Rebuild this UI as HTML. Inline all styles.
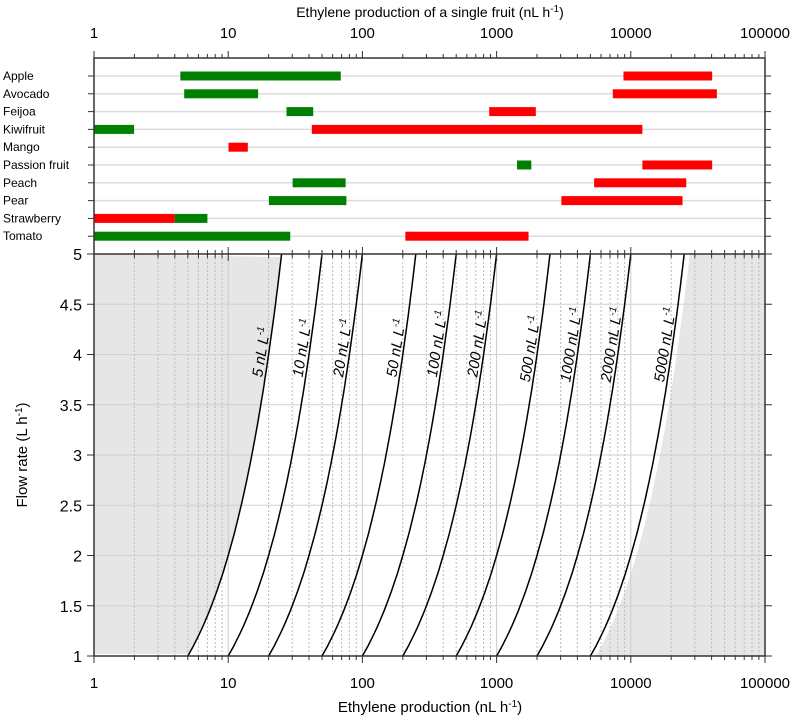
<!DOCTYPE html>
<html><head><meta charset="utf-8"><style>
body{margin:0;background:#fff}
svg{font-family:"Liberation Sans",Arial,sans-serif}
</style></head><body>
<svg id="c" width="797" height="721" xmlns="http://www.w3.org/2000/svg"></svg>
<script>
const fruits=["Apple","Avocado","Feijoa","Kiwifruit","Mango","Passion fruit","Peach","Pear","Strawberry","Tomato"];
const greenLo=[4.4,4.7,27.2,1,null,1420,30.2,20.1,4.0,1];
const greenHi=[69,16.7,43,1.99,null,1815,75,76,7.0,29];
const redLo=[8820,7340,881,42,10.05,12200,5330,3040,1,209];
const redHi=[40400,43800,1960,12200,14,40400,25900,24300,4.0,1730];
const concentrations=[5,10,20,50,100,200,500,1000,2000,5000];
const yTicks=[1,1.5,2,2.5,3,3.5,4,4.5,5];
const xTickLabels=["1","10","100","1000","10000","100000"];

const NS="http://www.w3.org/2000/svg";
const svg=document.getElementById('c');
const X0=94,DEC=134.2;
const xs=v=>X0+DEC*Math.log10(v);
const Y1=656,YU=100.5;
const ys=f=>Y1-(f-1)*YU;
const TOP=58,MID=254;
const rowY=i=>76+i*17.8;
function el(t,a,p){const e=document.createElementNS(NS,t);for(const k in a)e.setAttribute(k,a[k]);(p||svg).appendChild(e);return e;}

function curvePts(c,f0,f1){let p=[];for(let f=f0;f<=f1+1e-9;f+=0.05)p.push([xs(c*f),ys(f)]);return p;}
let lp=curvePts(5,1.02,5);
let d="M"+X0+","+ys(1.02)+" "+lp.map(q=>"L"+q[0].toFixed(1)+","+q[1].toFixed(1)).join(" ")+" L"+X0+","+MID+"Z";
let s=el('path',{d:d,fill:'#e6e6e6'});


let rp=curvePts(5500,1,5);
d="M"+rp.map(q=>q[0].toFixed(1)+","+q[1].toFixed(1)).join(" L")+" L"+xs(100000)+","+MID+" L"+xs(100000)+","+Y1+"Z";
s=el('path',{d:d,fill:'#e6e6e6'});



for(let e=0;e<5;e++)for(let m=1;m<10;m++){const x=xs(m*Math.pow(10,e));
 if(m==1){if(e>0)el('line',{x1:x,x2:x,y1:MID,y2:Y1,stroke:'#ccc','stroke-width':1});}
 else el('line',{x1:x,x2:x,y1:MID,y2:Y1,stroke:'#bbb','stroke-width':1,'stroke-dasharray':'2,2'});}
yTicks.forEach(v=>{if(v>1&&v<5)el('line',{x1:X0,x2:xs(100000),y1:ys(v),y2:ys(v),stroke:'#d0d0d0'});});

concentrations.forEach((c,i)=>{
 const p=curvePts(c,1,5);
 const l=el('path',{d:"M"+p.map(q=>q[0].toFixed(1)+","+q[1].toFixed(1)).join(" L"),fill:'none',stroke:'#000','stroke-width':1.5});
 
 
 const f=(c>=500)?3.72:3.77;
 const x=xs(c*f)-3,y=ys(f);
 const ang=Math.atan((DEC/(3.6*Math.LN10))/YU)*180/Math.PI;
 const t=el('text',{x:0,y:0,transform:`translate(${x},${y}) rotate(${-90+ang})`,'text-anchor':'start','font-size':15,'font-style':'italic'});
 t.innerHTML=c+' nL L<tspan dy="-6" font-size="10">-1</tspan>';
 
 
});

el('rect',{x:X0,y:TOP,width:xs(100000)-X0,height:MID-TOP,fill:'#fff'});
fruits.forEach((n,i)=>{
 const y=rowY(i);
 el('line',{x1:X0,x2:xs(100000),y1:y,y2:y,stroke:'#ddd','stroke-width':1.5});
 el('line',{x1:X0-6,x2:X0,y1:y,y2:y,stroke:'#333'});
 el('line',{x1:xs(100000),x2:xs(100000)+6,y1:y,y2:y,stroke:'#333'});
 const t=el('text',{x:3,y:y+4,'font-size':12});t.textContent=n;
 
 
});
fruits.forEach((n,i)=>{
 const y=rowY(i);
 if(redLo[i]!=null){const r=el('rect',{x:xs(redLo[i]),y:y-4.5,width:xs(redHi[i])-xs(redLo[i]),height:9,fill:'#ff0000'});
  
  }
 if(greenLo[i]!=null){const g=el('rect',{x:xs(greenLo[i]),y:y-4.5,width:xs(greenHi[i])-xs(greenLo[i]),height:9,fill:'#008000'});
  
  }
});

el('rect',{x:X0,y:TOP,width:xs(100000)-X0,height:Y1-TOP,fill:'none',stroke:'#333','stroke-width':1.5});
el('line',{x1:X0,x2:xs(100000),y1:MID,y2:MID,stroke:'#333','stroke-width':1.5});
for(let e=0;e<5;e++)for(let m=1;m<10;m++){const x=xs(m*Math.pow(10,e));const L=m==1?7:4;
 el('line',{x1:x,x2:x,y1:TOP-L,y2:TOP,stroke:'#333'});
 el('line',{x1:x,x2:x,y1:MID-L,y2:MID+L,stroke:'#333'});
 el('line',{x1:x,x2:x,y1:Y1,y2:Y1+L,stroke:'#333'});}
[TOP,MID,Y1].forEach(y=>{el('line',{x1:xs(100000),x2:xs(100000),y1:y-7,y2:y+7,stroke:'#333'});});
xTickLabels.forEach((l,i)=>{const x=xs(Math.pow(10,i));
 let t=el('text',{x:x,y:38,'text-anchor':'middle','font-size':15});t.textContent=l;
 
 
 t=el('text',{x:x,y:688,'text-anchor':'middle','font-size':15});t.textContent=l;
 
 });
yTicks.forEach(v=>{const y=ys(v);
 el('line',{x1:X0-7,x2:X0,y1:y,y2:y,stroke:'#333'});
 el('line',{x1:xs(100000),x2:xs(100000)+7,y1:y,y2:y,stroke:'#333'});
 const t=el('text',{x:X0-12,y:y+6,'text-anchor':'end','font-size':16});t.textContent=String(v);
 
 });

let t=el('text',{x:430,y:17,'text-anchor':'middle','font-size':14});
t.innerHTML='Ethylene production of a single fruit (nL h<tspan dy="-5" font-size="10">-1</tspan><tspan dy="5">)</tspan>';


t=el('text',{x:430,y:712,'text-anchor':'middle','font-size':15});
t.innerHTML='Ethylene production (nL h<tspan dy="-5" font-size="10">-1</tspan><tspan dy="5">)</tspan>';


t=el('text',{x:0,y:0,transform:'translate(27,455) rotate(-90)','text-anchor':'middle','font-size':15});
t.innerHTML='Flow rate (L h<tspan dy="-5" font-size="10">-1</tspan><tspan dy="5">)</tspan>';


</script>
</body></html>
